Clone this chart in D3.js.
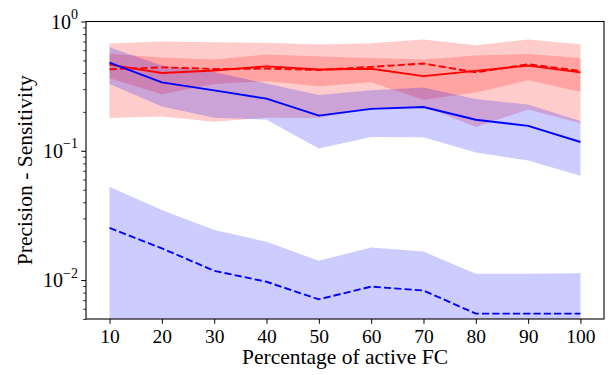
<!DOCTYPE html>
<html>
<head>
<meta charset="utf-8">
<script src="https://cdn.jsdelivr.net/npm/d3@7"></script>
<style>
  html, body { margin: 0; padding: 0; background: #fff; }
  text { font-family: "Liberation Serif", "Times New Roman", serif; fill: #000; }
</style>
</head>
<body>
<svg id="chart" width="610" height="375"></svg>
<script>
// ---- data ----
const percentages = [10, 20, 30, 40, 50, 60, 70, 80, 90, 100];
const redSolid      = [0.464, 0.400, 0.418, 0.450, 0.425, 0.431, 0.378, 0.415, 0.456, 0.404];
const redSolidStd   = [0.100, 0.126, 0.090, 0.105, 0.110, 0.092, 0.130, 0.132, 0.105, 0.118];
const redDashed     = [0.427, 0.442, 0.429, 0.432, 0.421, 0.446, 0.473, 0.404, 0.467, 0.415];
const redDashedStd  = [0.248, 0.258, 0.261, 0.252, 0.242, 0.234, 0.252, 0.251, 0.258, 0.252];
const blueSolid     = [0.481, 0.338, 0.293, 0.253, 0.187, 0.211, 0.218, 0.174, 0.156, 0.117];
const blueSolidStd  = [0.152, 0.118, 0.113, 0.079, 0.083, 0.083, 0.091, 0.077, 0.072, 0.053];
const blueDashed    = [0.0253, 0.0176, 0.0118, 0.0097, 0.0071, 0.0089, 0.0083, 0.0055, 0.0055, 0.0055];
const blueDashedStd = [0.0273, 0.0173, 0.0126, 0.0101, 0.0070, 0.0090, 0.0083, 0.0057, 0.0057, 0.0058];
const xTicks = [10, 20, 30, 40, 50, 60, 70, 80, 90, 100];
const yMajorTicks = [0.01, 0.1, 1];
const yTickExponents = ["\u22122", "\u22121", "0"];
const xLabel = "Percentage of active FC";
const yLabel = "Precision - Sensitivity";

// ---- layout ----
const svg = d3.select("#chart");
const M = { left: 86, right: 604, top: 21.5, bottom: 319 };
const x = d3.scaleLinear().domain([5.5, 104.5]).range([M.left, M.right]);
const yMin = 0.005, yMax = 1;
const y = d3.scaleLog().domain([yMin, yMax]).range([M.bottom, M.top]);

svg.append("defs").append("clipPath").attr("id", "plotclip")
  .append("rect").attr("x", M.left).attr("y", M.top)
  .attr("width", M.right - M.left).attr("height", M.bottom - M.top);

const plot = svg.append("g").attr("clip-path", "url(#plotclip)");

function series(mean, std) {
  return percentages.map((p, i) => ({
    x: p,
    m: mean[i],
    lo: Math.max(mean[i] - std[i], 1e-7),
    hi: mean[i] + std[i]
  }));
}

const bands = [
  { data: series(redDashed, redDashedStd), color: "#ff0000" },
  { data: series(redSolid, redSolidStd), color: "#ff0000" },
  { data: series(blueSolid, blueSolidStd), color: "#0000ff" },
  { data: series(blueDashed, blueDashedStd), color: "#0000ff" }
];

const area = d3.area().x(d => x(d.x)).y0(d => y(d.lo)).y1(d => y(d.hi));
bands.forEach(b => {
  plot.append("path").attr("d", area(b.data))
    .attr("fill", b.color).attr("fill-opacity", 0.2).attr("stroke", "none");
});

const line = d3.line().x(d => x(d.x)).y(d => y(d.m));
const lines = [
  { data: series(redSolid, redSolidStd), color: "#ff0000", dash: null },
  { data: series(redDashed, redDashedStd), color: "#ff0000", dash: "7.2,3.1" },
  { data: series(blueSolid, blueSolidStd), color: "#0000ff", dash: null },
  { data: series(blueDashed, blueDashedStd), color: "#0000ff", dash: "7.2,3.1" }
];
lines.forEach(l => {
  const p = plot.append("path").attr("d", line(l.data))
    .attr("fill", "none").attr("stroke", l.color).attr("stroke-width", 1.9);
  if (l.dash) p.attr("stroke-dasharray", l.dash);
});

// ---- axes ----
const xAxis = d3.axisBottom(x).tickValues(xTicks).tickSize(4.8).tickPadding(5);
const gx = svg.append("g").attr("transform", `translate(0,${M.bottom})`).call(xAxis);
gx.select(".domain").remove();
gx.selectAll("line").attr("stroke", "#000").attr("stroke-width", 1);
gx.selectAll("text").style("font-size", "19.5px").style("font-family", "'Liberation Serif', serif");

// y minor ticks
const minor = [];
[0.001, 0.01, 0.1].forEach(dec => { for (let k = 2; k <= 9; k++) { const v = dec * k; if (v >= yMin && v <= yMax) minor.push(v); } });
const yAxisMinor = d3.axisLeft(y).tickValues(minor).tickSize(2.8).tickFormat("");
const gym = svg.append("g").attr("transform", `translate(${M.left},0)`).call(yAxisMinor);
gym.select(".domain").remove();
gym.selectAll("line").attr("stroke", "#000").attr("stroke-width", 0.8);

const yAxis = d3.axisLeft(y).tickValues(yMajorTicks).tickSize(4.8).tickFormat("");
const gy = svg.append("g").attr("transform", `translate(${M.left},0)`).call(yAxis);
gy.select(".domain").remove();
gy.selectAll("line").attr("stroke", "#000").attr("stroke-width", 1);

yMajorTicks.forEach((v, i) => {
  const t = svg.append("text")
    .attr("x", M.left - 8).attr("y", y(v) + 7)
    .attr("text-anchor", "end")
    .style("font-size", "20px");
  t.append("tspan").text("10");
  t.append("tspan").attr("dy", -9.5).style("font-size", "14px").text(yTickExponents[i]);
});

// frame
svg.append("rect").attr("x", M.left).attr("y", M.top)
  .attr("width", M.right - M.left).attr("height", M.bottom - M.top)
  .attr("fill", "none").attr("stroke", "#000").attr("stroke-width", 1.1);

// labels
svg.append("text").attr("x", (M.left + M.right) / 2).attr("y", 364)
  .attr("text-anchor", "middle").style("font-size", "21.5px").text(xLabel);
svg.append("text")
  .attr("transform", `translate(32,${(M.top + M.bottom) / 2}) rotate(-90)`)
  .attr("text-anchor", "middle").style("font-size", "21.5px").text(yLabel);
</script>
</body>
</html>
